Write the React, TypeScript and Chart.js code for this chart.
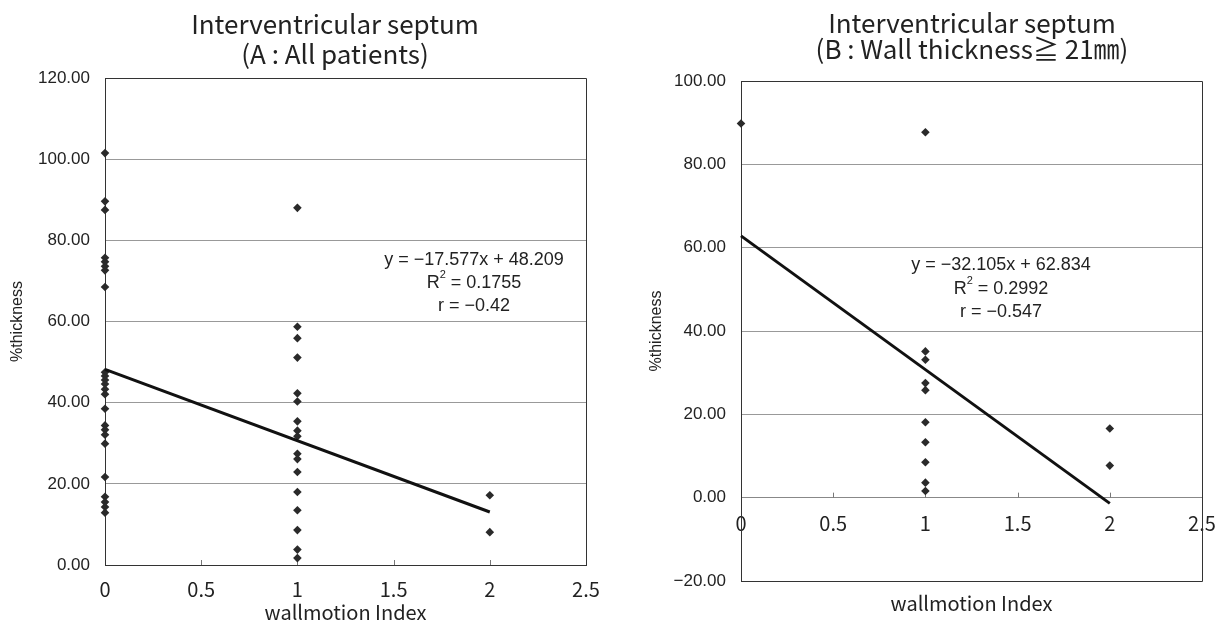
import React, { useEffect, useRef } from "react";
import { Chart, registerables } from "chart.js";

Chart.register(...registerables);

// ---------- data ----------
const xTickValues = [0, 0.5, 1, 1.5, 2, 2.5];
const aYTicks = [0, 20, 40, 60, 80, 100, 120];
const bYTicks = [-20, 0, 20, 40, 60, 80, 100];

// Panel A (all patients): %thickness by wallmotion index
const aIndex0 = [101.5, 89.6, 87.5, 75.7, 74.7, 73.6, 72.6, 68.5, 47.5, 46.6, 45.6, 44.6, 43.3, 42.1, 38.5, 34.4, 33.3, 32.1, 29.9, 21.7, 16.8, 15.5, 14.3, 12.9];
const aIndex1 = [88.0, 58.7, 55.9, 51.1, 42.3, 40.3, 35.4, 33.1, 31.7, 27.4, 26.1, 22.9, 18.0, 13.5, 8.6, 3.8, 1.7];
const aIndex2 = [17.2, 8.1];
const aSlope = -17.577;
const aIntercept = 48.209;
const aEquation = "y = −17.577x + 48.209";
const aR2 = "0.1755";
const aR = "r = −0.42";

// Panel B (wall thickness >= 21mm)
const bIndex0 = [89.8];
const bIndex1 = [87.7, 35.1, 33.1, 27.5, 25.8, 18.1, 13.3, 8.5, 3.6, 1.6];
const bIndex2 = [16.6, 7.7];
const bSlope = -32.105;
const bIntercept = 62.834;
const bEquation = "y = −32.105x + 62.834";
const bR2 = "0.2992";
const bR = "r = −0.547";

const aTitle = ["Interventricular septum", "(A : All patients)"];
const bTitle = ["Interventricular septum", "(B : Wall thickness≧ 21㎜)"];
const xAxisTitle = "wallmotion Index";
const yAxisTitle = "%thickness";

// ---------- styling ----------
const CJK = '"Noto Sans CJK JP", "Noto Sans", sans-serif';
const SANS = '"Liberation Sans", Arial, sans-serif';
const INK = "#222";
const H = 622;

type PanelCfg = {
  left: number;
  width: number;
  area: { left: number; right: number; top: number; bottom: number };
  yMin: number;
  yMax: number;
  yTicks: number[];
  axisAtZero: boolean;
  groups: number[][];
  slope: number;
  intercept: number;
  equation: string;
  r2: string;
  r: string;
  title: string[];
  titleX: number;
  titleYs: number[];
  annX: number;
  annYs: number[];
  xTitleY: number;
  yTitleX: number;
  tickPad: number;
};

const fmtY = (v: number) => (v < 0 ? "−" + Math.abs(v).toFixed(2) : v.toFixed(2));

function drawR2(ctx: CanvasRenderingContext2D, cx: number, cy: number, value: string, size: number) {
  const normal = `${size}px ${SANS}`;
  const small = `${Math.round(size * 0.6)}px ${SANS}`;
  ctx.font = normal;
  const wR = ctx.measureText("R").width;
  const rest = " = " + value;
  const wRest = ctx.measureText(rest).width;
  ctx.font = small;
  const w2 = ctx.measureText("2").width;
  let x = cx - (wR + w2 + wRest) / 2;
  ctx.textAlign = "left";
  ctx.font = normal;
  ctx.fillText("R", x, cy);
  x += wR;
  ctx.font = small;
  ctx.fillText("2", x, cy - size * 0.42);
  x += w2;
  ctx.font = normal;
  ctx.fillText(rest, x, cy);
}

function makeDecor(p: PanelCfg) {
  return {
    id: "decor",
    beforeDatasetsDraw(chart: any) {
      const { ctx, chartArea: a, scales } = chart;
      ctx.save();
      // frame
      ctx.strokeStyle = "#333";
      ctx.lineWidth = 1;
      ctx.beginPath();
      ctx.moveTo(a.left, Math.round(a.top) + 0.5);
      ctx.lineTo(Math.round(a.right) + 0.5, Math.round(a.top) + 0.5);
      ctx.lineTo(Math.round(a.right) + 0.5, Math.round(a.bottom) + 0.5);
      ctx.lineTo(a.left, Math.round(a.bottom) + 0.5);
      ctx.stroke();
      // inner tick marks on x axis
      const yAxisPix = p.axisAtZero ? scales.y.getPixelForValue(0) : a.bottom;
      ctx.strokeStyle = "#777";
      ctx.beginPath();
      xTickValues.forEach((v) => {
        if (v <= 0 || v >= 2.5) return;
        const x = Math.round(scales.x.getPixelForValue(v)) + 0.5;
        ctx.moveTo(x, yAxisPix);
        ctx.lineTo(x, yAxisPix - 5);
      });
      ctx.stroke();
      ctx.restore();
    },
    afterDraw(chart: any) {
      const { ctx, chartArea: a } = chart;
      ctx.save();
      ctx.fillStyle = INK;
      ctx.textBaseline = "middle";
      ctx.textAlign = "center";
      // chart title
      ctx.font = `26px ${CJK}`;
      p.title.forEach((t, i) => ctx.fillText(t, p.titleX, p.titleYs[i]));
      // x axis title
      ctx.font = `20px ${CJK}`;
      ctx.fillText(xAxisTitle, (a.left + a.right) / 2, p.xTitleY);
      // y axis title
      ctx.save();
      ctx.translate(p.yTitleX, (a.top + a.bottom) / 2);
      ctx.rotate(-Math.PI / 2);
      ctx.font = `16px ${SANS}`;
      ctx.fillText(yAxisTitle, 0, 0);
      ctx.restore();
      // regression annotation
      ctx.font = `18px ${SANS}`;
      ctx.textAlign = "center";
      ctx.fillText(p.equation, p.annX, p.annYs[0]);
      drawR2(ctx, p.annX, p.annYs[1], p.r2, 18);
      ctx.textAlign = "center";
      ctx.font = `18px ${SANS}`;
      ctx.fillText(p.r, p.annX, p.annYs[2]);
      ctx.restore();
    },
  };
}

function buildConfig(p: PanelCfg): any {
  const trend = {
    label: "trend",
    data: [
      { x: 0, y: p.intercept },
      { x: 2, y: p.intercept + 2 * p.slope },
    ],
    showLine: true,
    borderColor: "#111",
    borderWidth: 3,
    pointRadius: 0,
    clip: false,
  };
  const scatter = p.groups.map((ys, idx) => ({
    label: "index " + idx,
    data: ys.map((y) => ({ x: idx, y })),
    pointStyle: "rectRot",
    pointRadius: 4.3,
    pointBorderWidth: 0,
    backgroundColor: "#2a2a2a",
    borderColor: "#2a2a2a",
    showLine: false,
    clip: false,
  }));

  return {
    type: "scatter",
    data: { datasets: [trend, ...scatter] },
    options: {
      responsive: false,
      animation: false,
      devicePixelRatio: 1,
      layout: {
        padding: {
          left: 0,
          top: p.area.top,
          right: p.width - p.area.right,
          bottom: p.axisAtZero ? H - p.area.bottom : 0,
        },
      },
      plugins: {
        legend: { display: false },
        tooltip: { enabled: false },
        title: { display: false },
      },
      scales: {
        x: {
          type: "linear",
          min: 0,
          max: 2.5,
          position: p.axisAtZero ? { y: 0 } : "bottom",
          afterBuildTicks: (s: any) => {
            s.ticks = xTickValues.map((v) => ({ value: v }));
          },
          afterFit: (s: any) => {
            if (!p.axisAtZero) s.height = H - p.area.bottom;
            s.paddingLeft = 0;
            s.paddingRight = 0;
          },
          ticks: {
            autoSkip: false,
            maxRotation: 0,
            padding: p.tickPad,
            color: INK,
            font: { family: CJK, size: 20 },
            callback: (v: number) => String(v),
          },
          grid: { display: false, drawTicks: false },
          border: { display: true, color: p.axisAtZero ? "#888" : "#333", width: 1 },
        },
        y: {
          type: "linear",
          min: p.yMin,
          max: p.yMax,
          afterBuildTicks: (s: any) => {
            s.ticks = p.yTicks.map((v) => ({ value: v }));
          },
          afterFit: (s: any) => {
            s.width = p.area.left;
            s.paddingTop = 0;
            s.paddingBottom = 0;
          },
          ticks: {
            padding: 15,
            color: INK,
            font: { family: SANS, size: 17 },
            callback: (v: number) => fmtY(v),
          },
          grid: { color: "#999", lineWidth: 1, drawTicks: false },
          border: { display: true, color: "#333", width: 1 },
        },
      },
    },
    plugins: [makeDecor(p)],
  };
}

const panelA: PanelCfg = {
  left: 0,
  width: 600,
  area: { left: 105, right: 586, top: 78, bottom: 565 },
  yMin: 0,
  yMax: 120,
  yTicks: aYTicks,
  axisAtZero: false,
  groups: [aIndex0, aIndex1, aIndex2],
  slope: aSlope,
  intercept: aIntercept,
  equation: aEquation,
  r2: aR2,
  r: aR,
  title: aTitle,
  titleX: 335,
  titleYs: [24, 54],
  annX: 474,
  annYs: [260, 283, 306],
  xTitleY: 612,
  yTitleX: 18,
  tickPad: 12,
};

const panelB: PanelCfg = {
  left: 600,
  width: 615,
  area: { left: 141, right: 602, top: 81, bottom: 581 },
  yMin: -20,
  yMax: 100,
  yTicks: bYTicks,
  axisAtZero: true,
  groups: [bIndex0, bIndex1, bIndex2],
  slope: bSlope,
  intercept: bIntercept,
  equation: bEquation,
  r2: bR2,
  r: bR,
  title: bTitle,
  titleX: 372,
  titleYs: [23, 49],
  annX: 401,
  annYs: [265, 289, 312],
  xTitleY: 603,
  yTitleX: 57,
  tickPad: 14,
};

function Panel({ cfg }: { cfg: PanelCfg }) {
  const ref = useRef<HTMLCanvasElement | null>(null);
  useEffect(() => {
    if (!ref.current) return;
    const chart = new Chart(ref.current, buildConfig(cfg));
    return () => chart.destroy();
  }, [cfg]);
  return (
    <canvas
      ref={ref}
      width={cfg.width}
      height={H}
      style={{ position: "absolute", left: cfg.left, top: 0, width: cfg.width, height: H }}
    />
  );
}

export default function App() {
  return (
    <div
      style={{
        position: "fixed",
        left: 0,
        top: 0,
        width: 1215,
        height: H,
        background: "#fff",
        overflow: "hidden",
      }}
    >
      <Panel cfg={panelA} />
      <Panel cfg={panelB} />
    </div>
  );
}
